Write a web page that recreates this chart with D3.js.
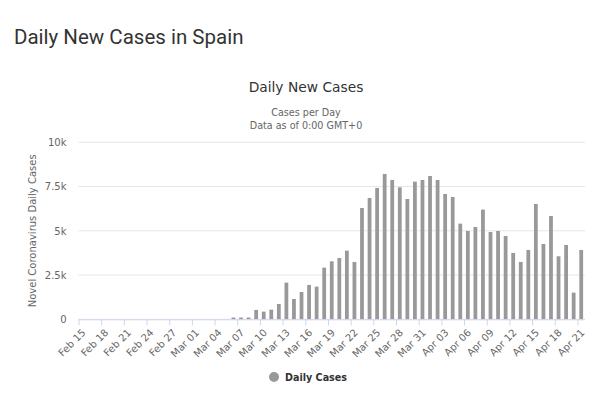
<!DOCTYPE html>
<html>
<head>
<meta charset="utf-8">
<script src="https://cdn.jsdelivr.net/npm/d3@7"></script>
<style>
  body { margin: 0; background: #fff; }
  svg text { font-family: "DejaVu Sans", sans-serif; }
</style>
</head>
<body>
<svg id="chart"></svg>
<script>
// categories (one per day)
const days = [
  "Feb 15","Feb 16","Feb 17","Feb 18","Feb 19","Feb 20","Feb 21","Feb 22","Feb 23","Feb 24",
  "Feb 25","Feb 26","Feb 27","Feb 28","Feb 29",
  "Mar 01","Mar 02","Mar 03","Mar 04","Mar 05","Mar 06","Mar 07","Mar 08","Mar 09","Mar 10",
  "Mar 11","Mar 12","Mar 13","Mar 14","Mar 15","Mar 16","Mar 17","Mar 18","Mar 19","Mar 20",
  "Mar 21","Mar 22","Mar 23","Mar 24","Mar 25","Mar 26","Mar 27","Mar 28","Mar 29","Mar 30","Mar 31",
  "Apr 01","Apr 02","Apr 03","Apr 04","Apr 05","Apr 06","Apr 07","Apr 08","Apr 09","Apr 10",
  "Apr 11","Apr 12","Apr 13","Apr 14","Apr 15","Apr 16","Apr 17","Apr 18","Apr 19","Apr 20","Apr 21"
];

// daily new cases
const dailyCases = [
  0, 0, 0, 0, 0, 0, 0, 0, 0, 0,
  0, 0, 0, 0, 0,
  0, 0, 0, 0, 0, 100, 100, 100, 530, 433,
  546, 866, 2072, 1149, 1544, 1940, 1845, 2919, 3277, 3465,
  3879, 3239, 6290, 6855, 7420, 8211, 7872, 7458, 6798, 7778, 7872,
  8098, 7872, 7081, 6911, 5405, 4991, 5217, 6196, 4934, 4991,
  4708, 3748, 3239, 3917, 6516, 4256, 5838, 3559, 4200, 1507, 3917
];

// y tick values and their labels
const yTicks = [0, 2500, 5000, 7500, 10000];
const yTickLabels = ["0", "2.5k", "5k", "7.5k", "10k"];

const width = 600, height = 393;
const plot = { left: 78.5, right: 585, top: 142.3, bottom: 319.3 };

const svg = d3.select("#chart")
  .attr("width", width)
  .attr("height", height);

// page heading
svg.append("text")
  .attr("x", 14).attr("y", 44)
  .style("font-family", "Roboto, sans-serif")
  .style("font-size", "20.5px")
  .style("fill", "#333")
  .text("Daily New Cases in Spain");

// chart title + subtitle
svg.append("text")
  .attr("x", 306).attr("y", 92)
  .attr("text-anchor", "middle")
  .style("font-size", "13.8px")
  .style("fill", "#333")
  .text("Daily New Cases");

svg.append("text")
  .attr("x", 306).attr("y", 116)
  .attr("text-anchor", "middle")
  .style("font-size", "9.6px")
  .style("fill", "#666")
  .text("Cases per Day");

svg.append("text")
  .attr("x", 306).attr("y", 129)
  .attr("text-anchor", "middle")
  .style("font-size", "9.6px")
  .style("fill", "#666")
  .text("Data as of 0:00 GMT+0");

const x = d3.scaleBand()
  .domain(days)
  .range([plot.left, plot.right])
  .paddingInner(0.5)
  .paddingOuter(0.25);

const y = d3.scaleLinear()
  .domain([0, 10000])
  .range([plot.bottom, plot.top]);

// gridlines
svg.append("g")
  .selectAll("line")
  .data(yTicks)
  .join("line")
  .attr("x1", plot.left).attr("x2", plot.right)
  .attr("y1", d => y(d)).attr("y2", d => y(d))
  .attr("stroke", "#e6e6e6");

// y axis labels
const yAxis = d3.axisLeft(y)
  .tickValues(yTicks)
  .tickFormat((d, i) => yTickLabels[i])
  .tickSize(0)
  .tickPadding(12);

const yg = svg.append("g")
  .attr("transform", `translate(${plot.left},0)`)
  .call(yAxis);
yg.select(".domain").remove();
yg.selectAll("text")
  .style("font-size", "10px")
  .style("fill", "#666")
  .style("font-family", "DejaVu Sans, sans-serif");

// y axis title
svg.append("text")
  .attr("transform", `translate(36,${(plot.top + plot.bottom) / 2}) rotate(-90)`)
  .attr("text-anchor", "middle")
  .style("font-size", "10px")
  .style("fill", "#666")
  .text("Novel Coronavirus Daily Cases");

// bars
svg.append("g")
  .selectAll("rect")
  .data(dailyCases)
  .join("rect")
  .attr("x", (d, i) => x(days[i]))
  .attr("y", d => y(d))
  .attr("width", x.bandwidth())
  .attr("height", d => y(0) - y(d))
  .attr("fill", "#999");

// x axis line
svg.append("line")
  .attr("x1", plot.left).attr("x2", plot.right)
  .attr("y1", plot.bottom + 0.5).attr("y2", plot.bottom + 0.5)
  .attr("stroke", "#ccd6eb");

// x tick marks, every third category, on the band boundary
const step = x.step();
const labelDays = days.filter((d, i) => i % 3 === 0);
svg.append("g")
  .selectAll("line")
  .data(labelDays)
  .join("line")
  .attr("x1", d => x(d) - step * 0.25 + 0.5)
  .attr("x2", d => x(d) - step * 0.25 + 0.5)
  .attr("y1", plot.bottom).attr("y2", plot.bottom + 6)
  .attr("stroke", "#ccd6eb");

// x labels rotated
svg.append("g")
  .selectAll("text")
  .data(labelDays)
  .join("text")
  .attr("transform", d => `translate(${x(d) + x.bandwidth() / 2 + 4},${plot.bottom + 14}) rotate(-45)`)
  .attr("text-anchor", "end")
  .style("font-size", "10px")
  .style("fill", "#666")
  .text(d => d);

// legend
svg.append("circle")
  .attr("cx", 274).attr("cy", 377)
  .attr("r", 5)
  .attr("fill", "#999");

svg.append("text")
  .attr("x", 285).attr("y", 381)
  .style("font-size", "9.6px")
  .style("font-weight", "bold")
  .style("fill", "#333")
  .text("Daily Cases");
</script>
</body>
</html>
